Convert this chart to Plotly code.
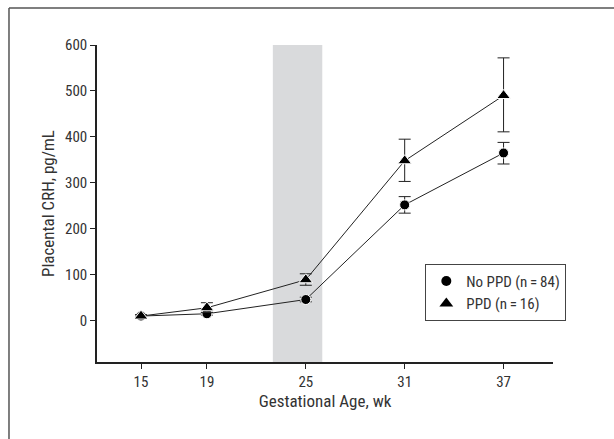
import plotly.graph_objects as go

weeks = [15, 19, 25, 31, 37]
no_ppd = [10, 15, 46, 252, 365]
no_ppd_plus = [2, 3, 5, 18, 23]
no_ppd_minus = [2, 3, 5, 18, 24]
ppd = [10, 28, 89, 348, 490]
ppd_plus = [3, 11, 13, 47, 82]
ppd_minus = [3, 10, 12, 45, 79]
shade_x = [23, 26]
x_ticks = [15, 19, 25, 31, 37]
y_ticks = [0, 100, 200, 300, 400, 500, 600]
names = ["No PPD (n\u2009=\u200984)", "PPD (n\u2009=\u200916)"]

FONT = "Liberation Sans Narrow, Roboto Condensed, Arial Narrow, sans-serif"
TXT = "#333333"

fig = go.Figure()
fig.add_trace(go.Scatter(
    x=weeks, y=no_ppd, name=names[0], mode="lines+markers", showlegend=False,
    line=dict(color="#222222", width=1),
    marker=dict(symbol="circle", size=10, color="black", line=dict(color="white", width=1)),
    error_y=dict(type="data", array=no_ppd_plus, arrayminus=no_ppd_minus,
                 color="#222222", thickness=1, width=6),
))
fig.add_trace(go.Scatter(
    x=weeks, y=ppd, name=names[1], mode="lines+markers", showlegend=False,
    line=dict(color="#222222", width=1),
    marker=dict(symbol="triangle-up", size=12, color="black", line=dict(color="white", width=1)),
    error_y=dict(type="data", array=ppd_plus, arrayminus=ppd_minus,
                 color="#222222", thickness=1, width=6),
))
# legend-only entries (markers only)
fig.add_trace(go.Scatter(x=[None], y=[None], name=names[0], mode="markers",
                         marker=dict(symbol="circle", size=10, color="black")))
fig.add_trace(go.Scatter(x=[None], y=[None], name=names[1], mode="markers",
                         marker=dict(symbol="triangle-up", size=12, color="black")))

fig.add_shape(type="rect", xref="x", yref="paper", x0=shade_x[0], x1=shade_x[1],
              y0=0, y1=1, fillcolor="#d9dadc", line=dict(width=0), layer="below")

# outer frame (top and left visible)
fig.add_shape(type="line", xref="paper", yref="paper", x0=-0.193, x1=1.2,
              y0=1.117, y1=1.117, line=dict(color="#555555", width=1.5))
fig.add_shape(type="line", xref="paper", yref="paper", x0=-0.193, x1=-0.193,
              y0=-0.3, y1=1.117, line=dict(color="#555555", width=1.5))

fig.update_layout(
    width=614, height=439,
    margin=dict(l=97, r=61, t=45, b=77),
    paper_bgcolor="white", plot_bgcolor="white",
    font=dict(family=FONT, size=15, color=TXT),
    showlegend=True,
    legend=dict(x=0.72, y=0.31, xanchor="left", yanchor="top",
                bordercolor="#444444", borderwidth=1, bgcolor="white",
                font=dict(family=FONT, size=15, color=TXT),
                itemwidth=30, tracegroupgap=4),
    xaxis=dict(range=[12.33, 40.0], tickvals=x_ticks, ticks="outside", ticklen=5,
               tickcolor="#222222", showline=True, linecolor="#222222", linewidth=1.5,
               showgrid=False, zeroline=False,
               title=dict(text="Gestational Age, wk", font=dict(size=17), standoff=4),
               tickfont=dict(size=15)),
    yaxis=dict(range=[-90, 600], tickvals=y_ticks, ticks="outside", ticklen=5,
               tickcolor="#222222", showline=True, linecolor="#222222", linewidth=1.5,
               showgrid=False, zeroline=False,
               title=dict(text="Placental CRH, pg/mL", font=dict(size=17), standoff=6),
               tickfont=dict(size=15)),
)

fig.write_html("out.html")
